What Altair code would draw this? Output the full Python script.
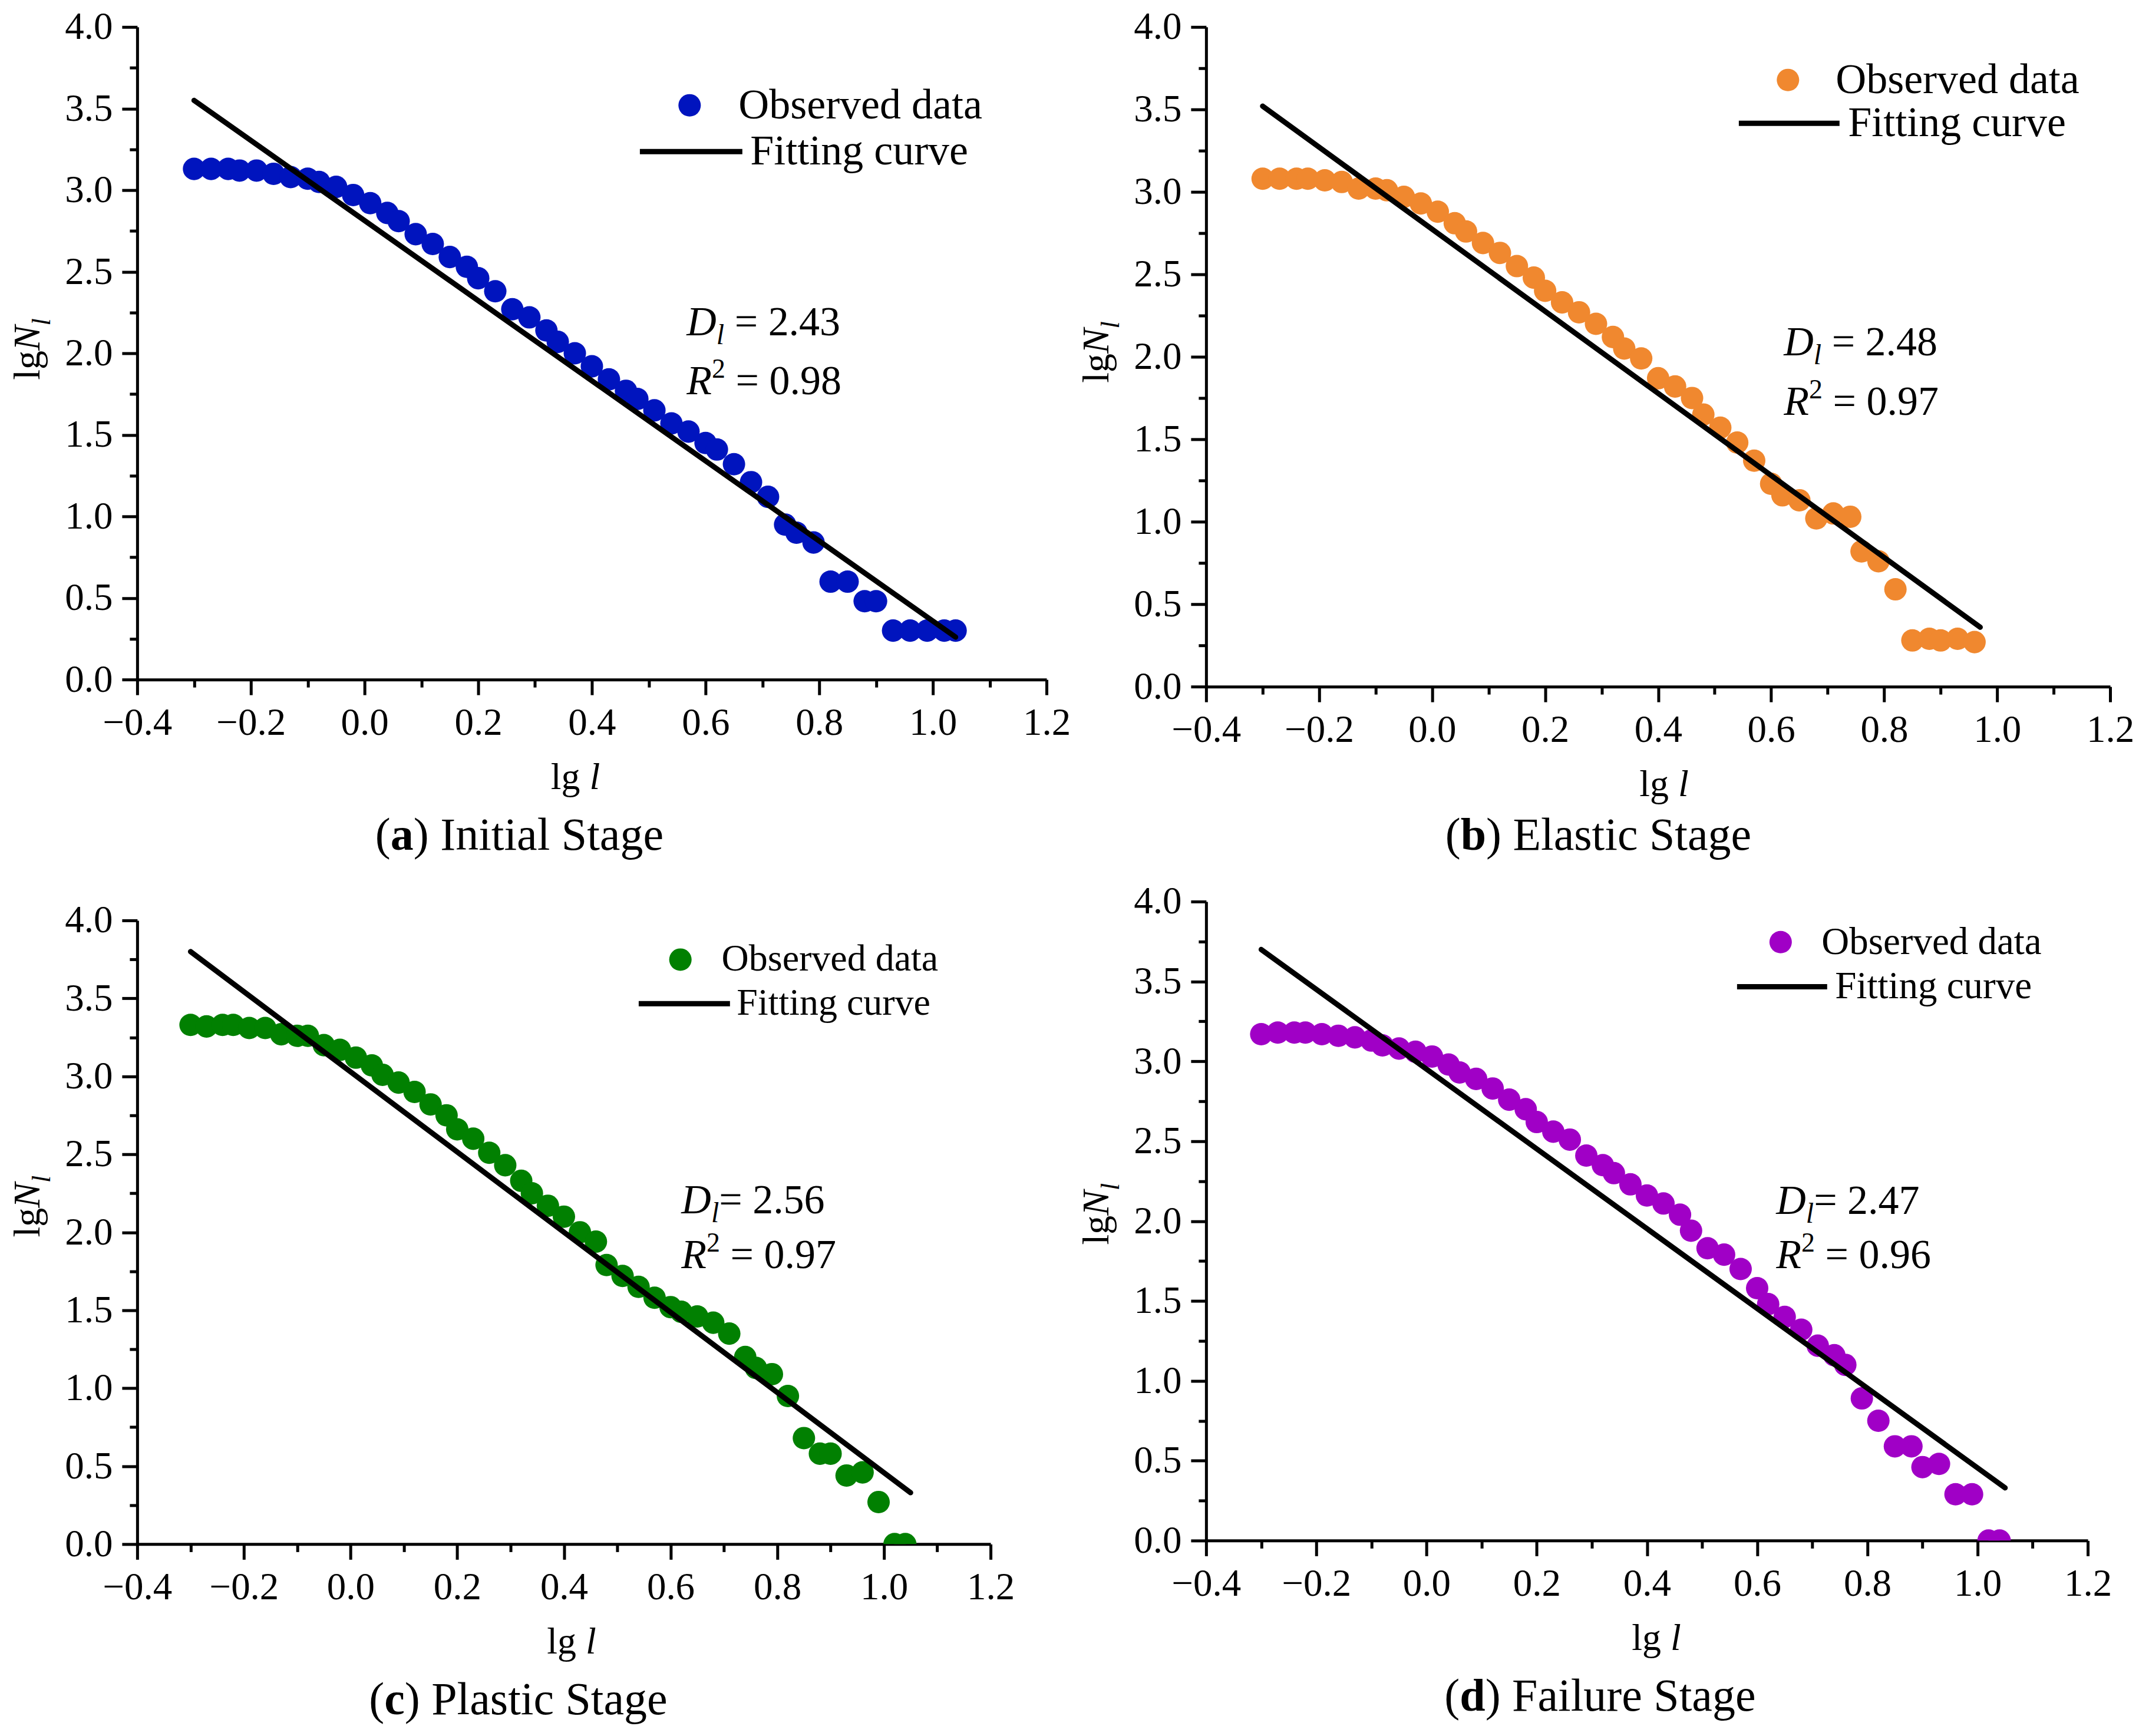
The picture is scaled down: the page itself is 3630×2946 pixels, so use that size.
import pandas as pd
import altair as alt

FONT = "Liberation Serif"

# lg l (x) values; the elastic stage stops after 46 points
lg_l = [-0.30, -0.27, -0.24, -0.22, -0.19, -0.16, -0.13, -0.10, -0.08, -0.05,
        -0.02, 0.01, 0.04, 0.06, 0.09, 0.12, 0.15, 0.18, 0.20, 0.23,
        0.26, 0.29, 0.32, 0.34, 0.37, 0.40, 0.43, 0.46, 0.48, 0.51,
        0.54, 0.57, 0.60, 0.62, 0.65, 0.68, 0.71, 0.74, 0.76, 0.79,
        0.82, 0.85, 0.88, 0.90, 0.93, 0.96, 0.99, 1.02, 1.04]

# lg N_l (y) per stage
lgN_a = [3.13, 3.13, 3.13, 3.12, 3.12, 3.10, 3.08, 3.07, 3.05, 3.02,
         2.97, 2.92, 2.86, 2.81, 2.73, 2.67, 2.59, 2.53, 2.46, 2.38,
         2.27, 2.22, 2.14, 2.07, 2.00, 1.92, 1.84, 1.77, 1.72, 1.65,
         1.57, 1.52, 1.45, 1.41, 1.32, 1.21, 1.12, 0.95, 0.90, 0.84,
         0.60, 0.60, 0.48, 0.48, 0.30, 0.30, 0.30, 0.30, 0.30]
lgN_b = [3.08, 3.08, 3.08, 3.08, 3.07, 3.06, 3.02, 3.02, 3.01, 2.97,
         2.93, 2.88, 2.81, 2.76, 2.69, 2.63, 2.55, 2.48, 2.40, 2.33,
         2.27, 2.20, 2.12, 2.05, 1.99, 1.87, 1.82, 1.75, 1.65, 1.57,
         1.48, 1.37, 1.23, 1.16, 1.13, 1.02, 1.05, 1.03, 0.82, 0.76,
         0.59, 0.28, 0.29, 0.28, 0.29, 0.27]
lgN_c = [3.33, 3.32, 3.33, 3.33, 3.31, 3.31, 3.27, 3.26, 3.26, 3.20,
         3.17, 3.12, 3.07, 3.01, 2.96, 2.90, 2.82, 2.75, 2.66, 2.60,
         2.51, 2.43, 2.33, 2.25, 2.17, 2.10, 2.00, 1.94, 1.79, 1.72,
         1.65, 1.58, 1.52, 1.49, 1.46, 1.42, 1.35, 1.20, 1.13, 1.09,
         0.95, 0.68, 0.58, 0.58, 0.44, 0.46, 0.27, 0.00, 0.00]
lgN_d = [3.17, 3.18, 3.18, 3.18, 3.17, 3.16, 3.15, 3.13, 3.10, 3.08,
         3.06, 3.03, 2.98, 2.93, 2.89, 2.83, 2.76, 2.70, 2.62, 2.56,
         2.51, 2.41, 2.35, 2.30, 2.23, 2.16, 2.11, 2.04, 1.94, 1.83,
         1.79, 1.70, 1.58, 1.48, 1.40, 1.32, 1.22, 1.16, 1.10, 0.89,
         0.75, 0.59, 0.59, 0.46, 0.48, 0.29, 0.29, 0.00, 0.00]

# fitted straight lines (end points)
fit_x_a, fit_y_a = [-0.30, 1.04], [3.55, 0.26]
fit_x_b, fit_y_b = [-0.30, 0.97], [3.52, 0.36]
fit_x_c, fit_y_c = [-0.30, 1.05], [3.80, 0.33]
fit_x_d, fit_y_d = [-0.30, 1.05], [3.70, 0.33]

# tick positions (major + minor)
x_ticks = [-0.4, -0.3, -0.2, -0.1, 0.0, 0.1, 0.2, 0.3, 0.4, 0.5, 0.6,
           0.7, 0.8, 0.9, 1.0, 1.1, 1.2]
y_ticks = [0.0, 0.25, 0.5, 0.75, 1.0, 1.25, 1.5, 1.75, 2.0, 2.25, 2.5,
           2.75, 3.0, 3.25, 3.5, 3.75, 4.0]

panels = {
    "a": dict(stage="Initial Stage", color="#0014BE", y=lgN_a, fx=fit_x_a, fy=fit_y_a, D="2.43", R2="0.98", eq=" = "),
    "b": dict(stage="Elastic Stage", color="#F0882F", y=lgN_b, fx=fit_x_b, fy=fit_y_b, D="2.48", R2="0.97", eq=" = "),
    "c": dict(stage="Plastic Stage", color="#018001", y=lgN_c, fx=fit_x_c, fy=fit_y_c, D="2.56", R2="0.97", eq="= "),
    "d": dict(stage="Failure Stage", color="#A000C6", y=lgN_d, fx=fit_x_d, fy=fit_y_d, D="2.47", R2="0.96", eq="= "),
}

# layout in pixels relative to each plot area
# leg = (circle cx, cy, line x0, x1, line y, font size, circle label offset, line label offset)
layout = {
    "a": dict(w=1544, h=1108, ytitle=-7, xtitle=-28, cap=649, capy=0,
              leg=(942, 130, 856, 1030, 205, 72, 66, 14), ann=(933, 501, 601)),
    "b": dict(w=1535, h=1120, ytitle=-8, xtitle=10, cap=666, capy=-12,
              leg=(992, 87, 907, 1078, 157, 72, 64, 15), ann=(981, 535, 636)),
    "c": dict(w=1449, h=1059, ytitle=-44, xtitle=13, cap=647, capy=0,
              leg=(928, 66, 854, 1009, 135, 64, 57, 12), ann=(924, 474, 567)),
    "d": dict(w=1497, h=1085, ytitle=-12, xtitle=16, cap=669, capy=0,
              leg=(981, 68, 904, 1057, 138, 65, 56, 14), ann=(968, 507, 599)),
}

PT = 1450  # marker area
one = pd.DataFrame({"k": [0]})

# Times-like advance widths (em) to place mixed-style text pieces
REG = {" ": .25, "(": .333, ")": .333, ".": .25, "=": .564, "l": .278, "g": .5,
       "I": .333, "n": .5, "i": .278, "t": .278, "a": .444, "S": .556, "e": .444,
       "E": .611, "s": .389, "c": .444, "P": .556, "F": .556, "u": .5, "r": .333}
ITAL = {"D": .722, "R": .611, "N": .667, "l": .278}
BOLD = {"a": .5, "b": .556, "c": .444, "d": .556}


def tw(s, size, style, weight):
    table = ITAL if style == "italic" else BOLD if weight == "bold" else REG
    return size * sum(table.get(ch, 0.5) for ch in s)


def rich(segs, x, y, angle=0, anchor="left"):
    """segs: (text, size, style, weight, dy) pieces drawn one after another"""
    total = sum(tw(t, s, st, wt) for t, s, st, wt, _ in segs)
    pos = -total / 2 if anchor == "center" else 0
    out = []
    for t, s, st, wt, dy in segs:
        lead = len(t) - len(t.lstrip(" "))  # svg drops leading blanks
        pos += tw(" " * lead, s, st, wt)
        t = t.lstrip(" ")
        out.append(alt.Chart(one).mark_text(
            text=t, align="left", baseline="alphabetic", font=FONT, fontSize=s,
            fontStyle=st, fontWeight=wt, color="black", angle=angle, dx=pos, dy=dy
        ).encode(x=alt.value(x), y=alt.value(y)))
        pos += tw(t, s, st, wt)
    return out


def axis(values, test):
    return alt.Axis(
        values=values, title=None, grid=False,
        labelExpr=f"{test} ? format(datum.value, '.1f') : ''",
        tickSize={"condition": {"test": test, "value": 26}, "value": 13},
        tickWidth=5, tickColor="black", domainWidth=5, domainColor="black",
        labelFont=FONT, labelFontSize=65, labelColor="black", labelPadding=16,
        labelOverlap=False, labelFlush=False,
    )


def panel(k):
    p, L = panels[k], layout[k]
    w, h = L["w"], L["h"]
    df = pd.DataFrame({"lg_l": lg_l[:len(p["y"])], "lgN": p["y"]})
    df["series"] = "Observed data"
    fit = pd.DataFrame({"lg_l": p["fx"], "lgN": p["fy"]})
    fit["series"] = "Fitting curve"

    xs = alt.Scale(domain=[-0.4, 1.2], nice=False, zero=False)
    ys = alt.Scale(domain=[0, 4], nice=False)
    X = alt.X("lg_l:Q", scale=xs, axis=axis(x_ticks, "abs(round(datum.value*10)) % 2 == 0"))
    Y = alt.Y("lgN:Q", scale=ys, axis=axis(y_ticks, "round(datum.value*4) % 2 == 0"))

    cx, cy, l0, l1, ly, lf, off1, off2 = L["leg"]
    r = PT ** 0.5 / 2
    k_f = lf / 72
    pts = alt.Chart(df).mark_circle(size=PT, opacity=1, clip=True).encode(
        x=X, y=Y,
        color=alt.Color("series:N",
                        scale=alt.Scale(domain=["Observed data"], range=[p["color"]]),
                        legend=alt.Legend(title=None, orient="none",
                                          legendX=cx - r - 21 * k_f, legendY=cy - r - 14 * k_f,
                                          symbolType="circle", symbolSize=PT, symbolStrokeWidth=0,
                                          labelFont=FONT, labelFontSize=lf, labelColor="black",
                                          labelLimit=1000, labelOffset=off1 - 19, padding=0)),
    )
    line = alt.Chart(fit).mark_line(strokeWidth=9, strokeCap="round").encode(
        x=X, y=Y,
        stroke=alt.Stroke("series:N",
                          scale=alt.Scale(domain=["Fitting curve"], range=["black"]),
                          legend=alt.Legend(title=None, orient="none", legendX=l0 - 7,
                                            legendY=ly - (l1 - l0) / 2 + 2,
                                            symbolType="stroke", symbolSize=(l1 - l0) ** 2,
                                            symbolStrokeWidth=9,
                                            labelFont=FONT, labelFontSize=lf, labelColor="black",
                                            labelLimit=1000, labelOffset=off2 - 5, padding=0)),
    )

    N, I, B = "normal", "italic", "bold"
    texts = []
    texts += rich([("lg", 64, N, N, 0), ("N", 64, I, N, 0), ("l", 44, I, N, 18)],
                  -166, h / 2 + L["ytitle"], angle=270, anchor="center")
    texts += rich([("lg ", 64, N, N, 0), ("l", 64, I, N, 0)],
                  w / 2 + L["xtitle"], h + 186, anchor="center")
    texts += rich([("(", 78, N, N, 0), (k, 78, N, B, 0), (") " + p["stage"], 78, N, N, 0)],
                  L["cap"], h + 289 + L["capy"], anchor="center")
    ax, dcy, rcy = L["ann"]
    texts += rich([("D", 70, I, N, 0), ("l", 48, I, N, 15), (p["eq"] + p["D"], 70, N, N, 0)],
                  ax, dcy + 23)
    texts += rich([("R", 70, I, N, 0), ("2", 46, N, N, -28), (" = " + p["R2"], 70, N, N, 0)],
                  ax, rcy + 23)

    return alt.layer(pts, line, *texts).properties(width=w, height=h)


ind = dict(x="independent", y="independent", color="independent", stroke="independent")

left = alt.vconcat(panel("a"), panel("c"), spacing=409, bounds="flush").resolve_scale(**ind)
right = alt.vconcat(panel("b"), panel("d"), spacing=365, bounds="flush").resolve_scale(**ind)

chart = alt.hconcat(left, right, spacing=13).resolve_scale(**ind).properties(
    padding={"left": 8, "top": 5, "right": 0, "bottom": 5}
).configure_view(strokeWidth=0)

chart.save("out.html", embed_options={"renderer": "svg", "actions": False})
